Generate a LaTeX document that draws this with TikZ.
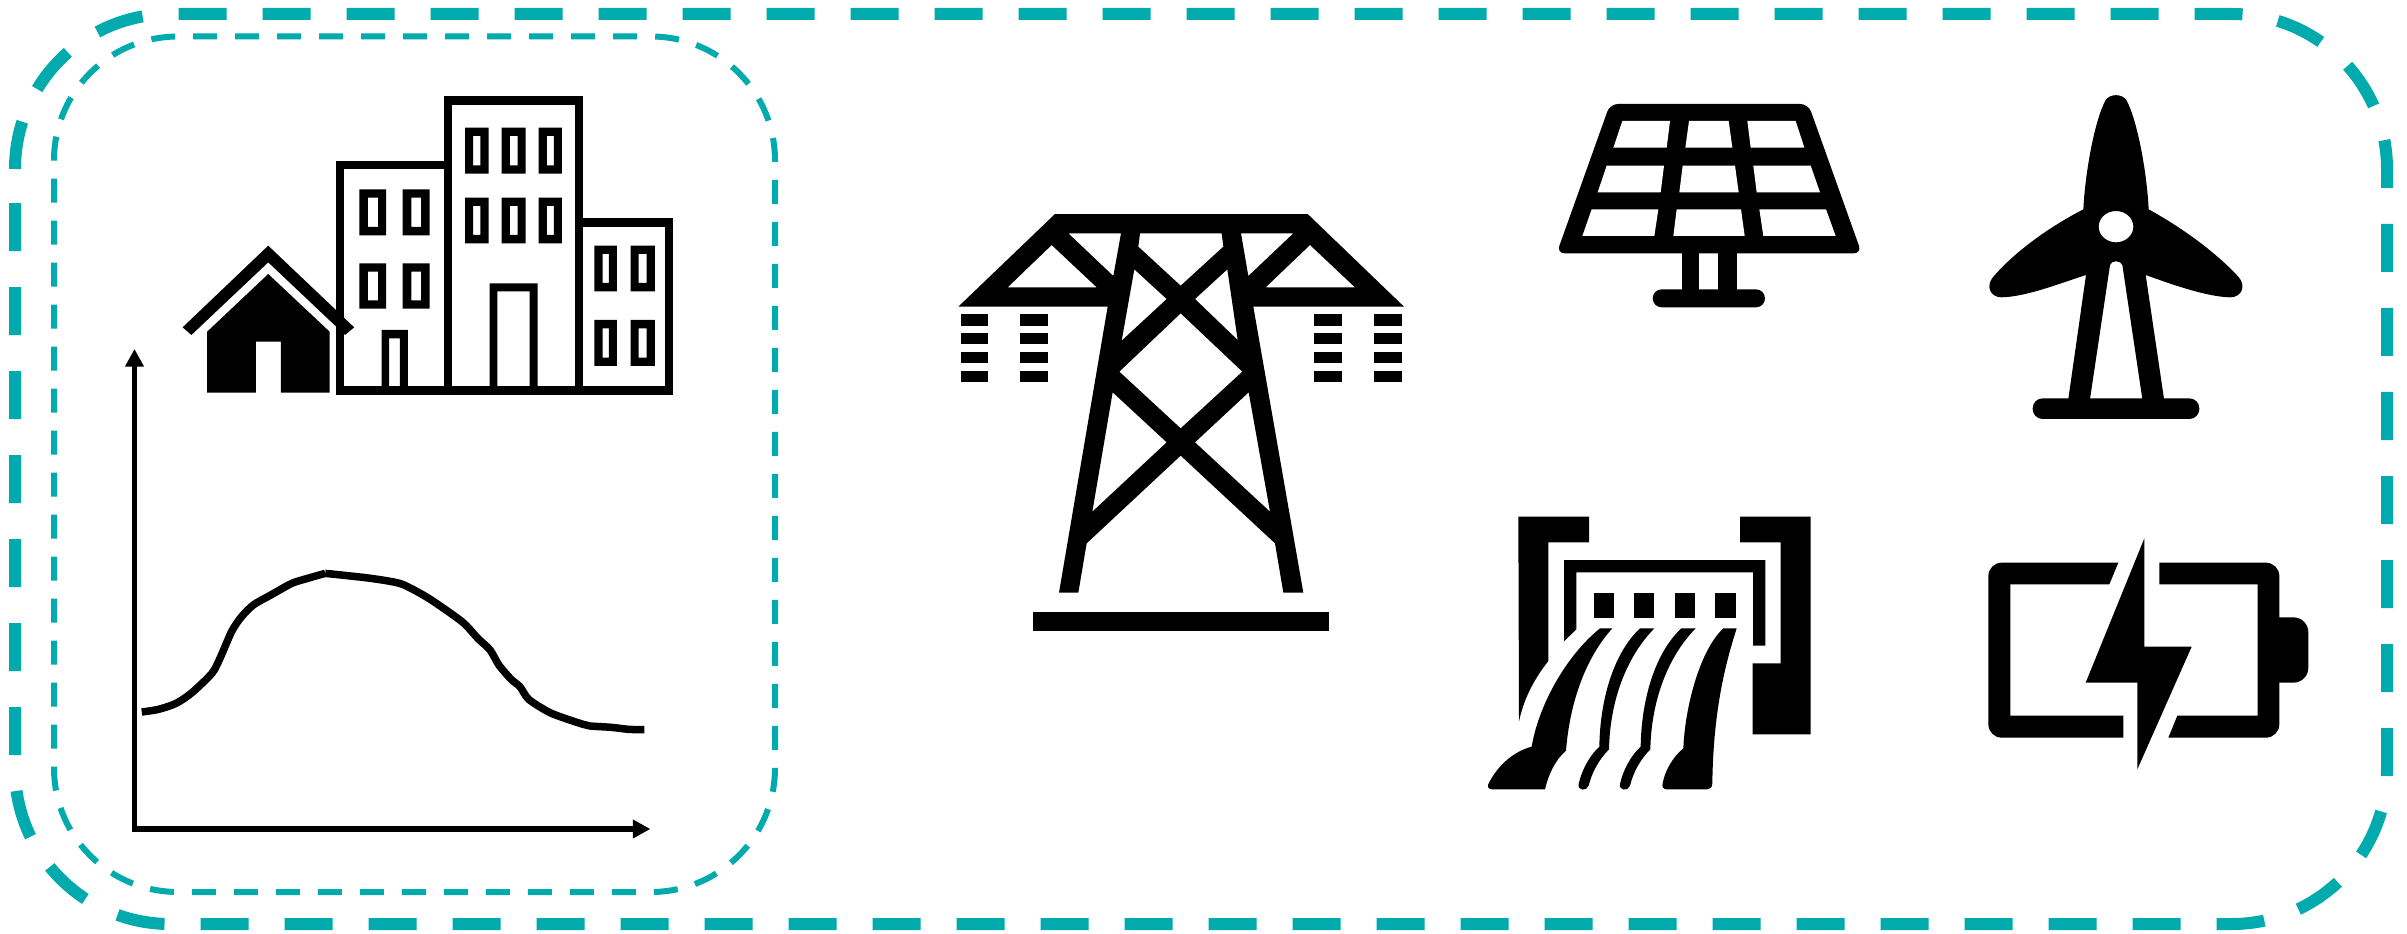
\documentclass[tikz,border=0pt]{standalone}
\usetikzlibrary{arrows.meta}
\definecolor{tealframe}{HTML}{00AAAD}
\newcommand{\winbox}[8]{\fill[even odd rule] (#1,#2) rectangle (#3,#4) (#5,#6) rectangle (#7,#8);}
\newcommand{\squarerect}[4]{\fill (#1,#2) rectangle (#3,#4);}
\tikzset{
  outerframe/.style={draw=tealframe,line width=12pt,rounded corners=155pt,dash pattern=on 48pt off 36pt},
  innerframe/.style={draw=tealframe,line width=6pt,rounded corners=124pt,dash pattern=on 24pt off 18pt},
  axisline/.style={line width=5.6pt,-{Triangle[length=17.5pt,width=17.7pt]}},
  icon/.style={scale=1/3},
  wideicon/.style={xscale=0.3508,yscale=0.33333},
  holefill/.style={fill=white}
}
\begin{document}
\begin{tikzpicture}[x=1pt,y=-1pt]
\useasboundingbox (0,0) rectangle (2407,934);
\fill[white] (0,0) rectangle (2407,934);
% frames
\path[outerframe] (15,169) -- (15,14) -- (2387,14) -- (2387,924) -- (15,924) -- (15,169);
\path[innerframe] (54,160.5) -- (54,36.5) -- (775,36.5) -- (775,892) -- (54,892) -- (54,160.5);
% house and buildings
\begin{scope}[shift={(150,80)},wideicon]
\draw[line width=8.5pt,miter limit=10] (542,931) -- (542,255) -- (850,255) -- (850,62) -- (1223,62) -- (1223,427) -- (1480,427) -- (1480,931) -- cycle
  (850,255) -- (850,931) (1223,427) -- (1223,931);
\winbox{660}{750}{735}{920}{682}{775}{712}{920}
\winbox{968}{610}{1105}{920}{990}{634}{1082}{920}
\winbox{597}{328}{673}{466}{621}{353}{650}{441}
\winbox{720}{328}{797}{466}{745}{353}{773}{441}
\winbox{597}{550}{673}{686}{621}{575}{650}{661}
\winbox{720}{550}{797}{686}{745}{575}{773}{661}
\winbox{898}{143}{965}{281}{921}{168}{942}{256}
\winbox{1002}{143}{1071}{281}{1026}{168}{1048}{256}
\winbox{1108}{143}{1174}{281}{1131}{168}{1151}{256}
\winbox{898}{353}{965}{490}{921}{378}{942}{465}
\winbox{1002}{353}{1071}{490}{1026}{378}{1048}{465}
\winbox{1108}{353}{1174}{490}{1131}{378}{1151}{465}
\winbox{1267}{497}{1331}{634}{1290}{522}{1308}{609}
\winbox{1370}{497}{1439}{634}{1393}{522}{1416}{609}
\winbox{1267}{720}{1331}{858}{1290}{745}{1308}{833}
\winbox{1370}{720}{1439}{858}{1393}{745}{1416}{833}
\fill (93,742) -- (337,497) -- (582,742) -- (556,765) -- (337,547) -- (118,765) -- cycle;
\fill (163,755) -- (337,582) -- (512,755) -- (512,938) -- (373,938) -- (373,785) -- (302,785) -- (302,938) -- (163,938) -- cycle;
\end{scope}
% chart
\coordinate (origin) at (134.5,829);
\coordinate (xstart) at (131.7,829);
\coordinate (ystart) at (134.5,831.8);
\coordinate (xend) at (650.4,829);
\coordinate (yend) at (134.5,349);
\draw[axisline] (xstart) -- (xend);
\draw[axisline] (ystart) -- (yend);
\begin{scope}[shift={(120,540)},wideicon]
\draw[line width=7.5pt,line join=round] plot[smooth,tension=0.45] coordinates {(62,516) (110,508) (160,490) (205,458) (262,400) (285,355) (318,275) (345,232) (380,195) (430,165) (490,130) (535,115) (585,100)};
\draw[line width=7.5pt,line join=round] plot[smooth,tension=0.45] coordinates {(585,100) (700,113) (770,124) (810,135) (880,175) (975,245) (1020,295) (1055,330) (1080,375) (1115,418) (1140,440) (1165,478) (1220,515) (1260,532) (1320,553) (1340,558) (1400,562) (1450,568) (1495,569)};
\end{scope}
% pylon
\begin{scope}[shift={(940,190)},icon]
\fill[even odd rule] (345,72) -- (1103,72) -- (1392,350) -- (940,350) -- (1090,1208) -- (1030,1208) -- (1005,1060) -- (722,797) -- (440,1060) -- (415,1208) -- (357,1208) -- (503,350) -- (55,350) -- cycle
 (335,165) -- (470,292) -- (203,292) -- cycle
 (385,130) -- (543,130) -- (520,258) -- cycle
 (600,130) -- (845,130) -- (850,170) -- (722,287) -- (595,170) -- cycle
 (903,130) -- (1060,130) -- (925,258) -- cycle
 (1110,165) -- (1245,292) -- (977,292) -- cycle
 (583,238) -- (680,327) -- (545,452) -- cycle
 (862,238) -- (893,450) -- (765,327) -- cycle
 (722,370) -- (907,545) -- (722,715) -- (538,545) -- cycle
 (518,607) -- (680,757) -- (457,965) -- cycle
 (926,607) -- (990,965) -- (765,757) -- cycle;
\foreach \xa/\xb in {62/143,241/325,1123/1205,1303/1387}{
  \foreach \ya/\yb in {372/407,430/463,486/520,543/577}{
    \squarerect{\xa}{\ya}{\xb}{\yb}
  }
}
\squarerect{280}{1265}{1168}{1322}
\end{scope}
% solar panel
\begin{scope}[shift={(1540,80)},icon]
\fill[rounded corners=8pt] (210,72) -- (805,72) -- (965,520) -- (50,520) -- cycle;
\fill[holefill] (247,123) -- (390,123) -- (380,203) -- (220,203) -- cycle;
\fill[holefill] (447,123) -- (566,123) -- (577,203) -- (436,203) -- cycle;
\fill[holefill] (622,123) -- (767,123) -- (793,203) -- (632,203) -- cycle;
\fill[holefill] (200,257) -- (372,257) -- (362,337) -- (173,337) -- cycle;
\fill[holefill] (428,257) -- (585,257) -- (596,337) -- (418,337) -- cycle;
\fill[holefill] (640,257) -- (812,257) -- (840,337) -- (650,337) -- cycle;
\fill[holefill] (155,388) -- (355,388) -- (343,468) -- (127,468) -- cycle;
\fill[holefill] (410,388) -- (603,388) -- (614,468) -- (400,468) -- cycle;
\fill[holefill] (658,388) -- (858,388) -- (887,468) -- (670,468) -- cycle;
\squarerect{425}{515}{478}{635}
\squarerect{535}{515}{590}{635}
\fill[rounded corners=9pt] (338,628) rectangle (675,682);
\end{scope}
% wind turbine
\begin{scope}[shift={(1960,80)},icon]
\fill[even odd rule] (370,388) .. controls (376,270) and (405,120) .. (436,62) .. controls (448,40) and (488,40) .. (500,62) .. controls (531,120) and (560,270) .. (566,388)
 .. controls (660,440) and (760,510) .. (835,590) .. controls (860,618) and (845,652) .. (810,652) .. controls (740,650) and (640,615) .. (557,585)
 -- (612,957) -- (547,957) -- (487,555) .. controls (482,540) and (454,540) .. (450,555) -- (390,957) -- (325,957) -- (378,585)
 .. controls (300,610) and (200,650) .. (125,652) .. controls (90,652) and (76,618) .. (100,590) .. controls (170,510) and (270,440) .. (370,388) -- cycle
 (468,440) ellipse [x radius=52pt,y radius=47pt];
\fill[rounded corners=10pt] (218,955) rectangle (718,1017);
\end{scope}
% hydro dam
\begin{scope}[shift={(1470,500)},icon]
\fill (145,50) -- (357,50) -- (357,127) -- (235,127) -- (235,483) .. controls (190,540) and (160,600) .. (147,665) -- cycle;
\fill (810,50) -- (1022,50) -- (1022,703) -- (848,703) -- (848,490) -- (932,490) -- (932,127) -- (810,127) -- cycle;
\fill (282,180) -- (886,180) -- (886,437) -- (849,437) -- (849,217) -- (319,217) -- (319,388) -- (282,424) -- cycle;
\squarerect{372}{278}{433}{354}
\squarerect{492}{278}{553}{354}
\squarerect{614}{278}{675}{354}
\squarerect{735}{278}{797}{354}
\fill (390,385) -- (427,385) .. controls (350,470) and (300,600) .. (288,752) .. controls (255,780) and (235,825) .. (225,868) -- (65,868) .. controls (55,868) and (50,858) .. (57,848) .. controls (85,795) and (130,755) .. (185,740) .. controls (205,620) and (285,470) .. (390,385) -- cycle;
\foreach \dx in {0,124}{
\fill[xshift=\dx*1pt] (510,385) -- (553,385) .. controls (470,470) and (420,600) .. (417,748) .. controls (385,780) and (365,820) .. (356,857) .. controls (350,875) and (322,872) .. (326,852) .. controls (335,810) and (360,765) .. (388,740) .. controls (390,600) and (430,460) .. (510,385) -- cycle;
}
\fill (760,385) -- (800,385) .. controls (770,480) and (730,620) .. (727,850) .. controls (727,862) and (720,868) .. (712,868) -- (590,868) .. controls (580,868) and (575,860) .. (578,850) .. controls (585,810) and (610,770) .. (640,745) .. controls (645,620) and (690,450) .. (760,385) -- cycle;
\end{scope}
% battery
\begin{scope}[shift={(1970,520)},icon]
\fill (445,128) -- (95,128) .. controls (73,128) and (55,146) .. (55,168) -- (55,613) .. controls (55,635) and (73,653) .. (95,653) -- (460,653) -- (460,587) -- (121,587) -- (121,193) -- (418,193) -- cycle;
\fill (568,128) -- (888,128) .. controls (910,128) and (928,146) .. (928,168) -- (928,292) -- (970,292) .. controls (995,292) and (1015,312) .. (1015,337) -- (1015,443) .. controls (1015,468) and (995,488) .. (970,488) -- (928,488) -- (928,613) .. controls (928,635) and (910,653) .. (888,653) -- (595,653) -- (622,587) -- (863,587) -- (863,193) -- (568,193) -- cycle;
\fill (523,55) -- (523,380) -- (665,380) -- (502,748) -- (502,488) -- (347,488) -- cycle;
\end{scope}
\end{tikzpicture}
\end{document}
